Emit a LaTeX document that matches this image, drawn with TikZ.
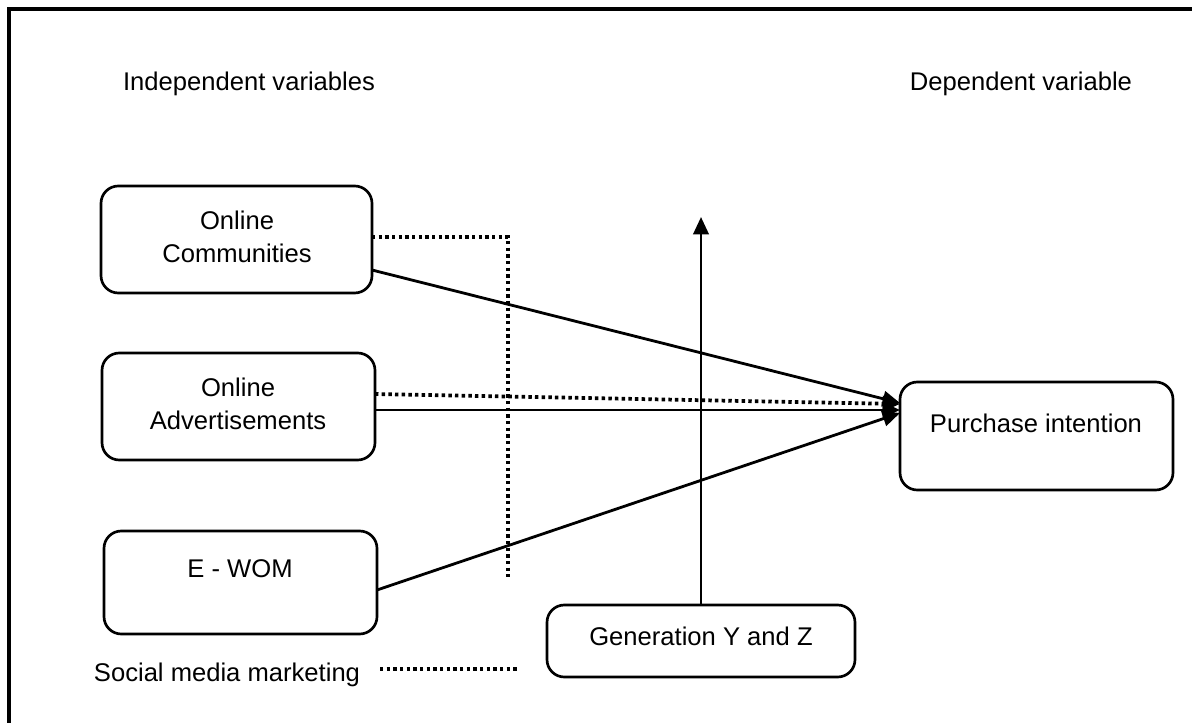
\documentclass[tikz,border=0pt]{standalone}
\usepackage{fontspec}
\setmainfont{Liberation Sans}
\usetikzlibrary{arrows.meta,fit}
\tikzset{
  box/.style={draw, line width=2pt, rounded corners=13pt, inner sep=0pt, outer sep=0pt},
  txt/.style={inner sep=0pt, outer sep=0pt, align=center, anchor=north, font=\fontsize{19.2}{24.75}\selectfont},
  conn/.style={line width=2.1pt, -{Triangle[length=13pt,width=11.5pt]}},
  dotline/.style={line width=2.8pt, dash pattern=on 2.6pt off 2.4pt},
  dotarrow/.style={dotline, -{Triangle[length=13pt,width=11.5pt]}},
  frameline/.style={line width=2.4pt}
}
\begin{document}
\begin{tikzpicture}[x=0.75pt,y=-0.75pt]
\useasboundingbox (0,0) rectangle (1192,723);
\fill[white] (0,0) rectangle (1192,723);
\draw[frameline] (1194,9) -- (9,9) -- (9,725);

% headings
\node[txt] (indep) at (249,72) {Independent variables};
\node[txt] (dep) at (1021,72) {Dependent variable};

% boxes
\node[box, fit={(101,186) (372,293)}] (comm) {};
\node[box, fit={(102,353) (375,460)}] (adv) {};
\node[box, fit={(104,531) (377,634)}] (ewom) {};
\node[box, fit={(900,382) (1173,490)}] (purch) {};
\node[box, fit={(547,605) (855,677)}] (gen) {};

\node[txt] (commt) at (237,211) {Online\\Communities};
\node[txt] (advt) at (238,378) {Online\\Advertisements};
\node[txt] (ewomt) at (240,560) {E - WOM};
\node[txt] (purcht) at (1036,414) {Purchase intention};
\node[txt] (gent) at (701,627) {Generation Y and Z};
\node[txt] (smm) at (227,663) {Social media marketing};

% moderator arrow
\coordinate (modtop) at (701,217);
\draw[conn] (gen.north -| modtop) -- (modtop);

% dotted social media marketing line
\coordinate (dA) at (508,237);
\coordinate (dB) at (508,577);
\draw[dotline] (comm.east |- dA) -- (dA) -- (dB);

% connectors to purchase intention
\draw[conn] (comm.east |- 0,270) -- (purch.west |- 0,403);
\draw[dotarrow] (adv.east |- 0,394) -- (purch.west |- 0,404);
\draw[conn] (adv.east |- 0,410) -- (purch.west |- 0,410);
\draw[conn] (ewom.east |- 0,590) -- (purch.west |- 0,413);

% legend
\coordinate (lgA) at (380,669);
\coordinate (lgB) at (517,669);
\draw[dotline] (lgA) -- (lgB);
\end{tikzpicture}
\end{document}
